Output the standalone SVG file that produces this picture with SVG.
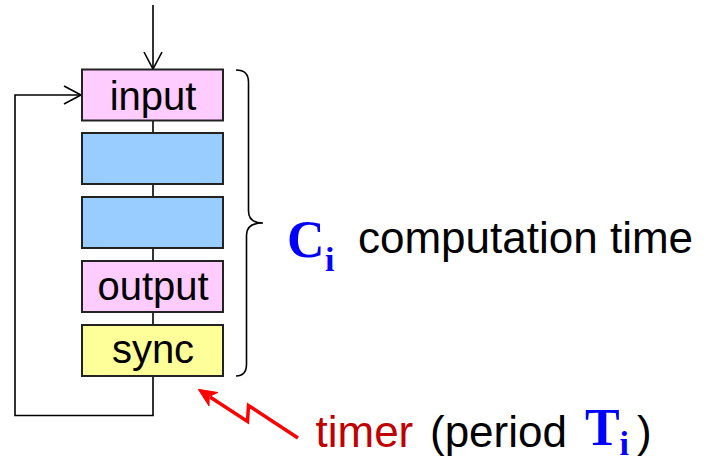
<svg xmlns="http://www.w3.org/2000/svg" width="707" height="457" viewBox="0 0 707 457">
  <style>
    .box { stroke: #222; stroke-width: 2; }
    .pink { fill: #ffccff; }
    .blue { fill: #99ccff; }
    .yellow { fill: #ffff99; }
    .lbl { font-family: "Liberation Sans", Arial, sans-serif; font-size: 40px; fill: #000; text-anchor: middle; }
    .wire { fill: none; stroke: #000; stroke-width: 1.6; }
    .sym { font-family: "Liberation Serif", "Times New Roman", serif; font-weight: bold; fill: #0000ff; }
    .txt { font-family: "Liberation Sans", Arial, sans-serif; font-size: 44px; fill: #000; }
    .signal { fill: none; stroke: #ff0000; stroke-width: 3.5; stroke-linejoin: miter; }
  </style>
  <defs>
    <marker id="open" viewBox="0 0 20 20" refX="18" refY="10" markerWidth="20" markerHeight="20" markerUnits="userSpaceOnUse" orient="auto">
      <path d="M1,1 L18,10 L1,19" fill="none" stroke="#000" stroke-width="1.6"/>
    </marker>
  </defs>

  <!-- connectors -->
  <g id="connectors">
    <line class="wire" x1="153" y1="5" x2="153" y2="69" marker-end="url(#open)"/>
    <line class="wire" x1="153" y1="120" x2="153" y2="133"/>
    <line class="wire" x1="153" y1="184" x2="153" y2="197"/>
    <line class="wire" x1="153" y1="248" x2="153" y2="261"/>
    <line class="wire" x1="153" y1="312" x2="153" y2="325"/>
    <path class="wire" d="M153,376 L153,415.5 L15,415.5 L15,95 L81,95" marker-end="url(#open)"/>
    <!-- timer signal -->
    <path class="signal" d="M298,438 L248.5,405.5 L247.5,421.5 L210,397"/>
    <polygon points="198.3,389.3 217.8,392.5 209.2,396.4 209,405.9" fill="#ff0000" stroke="#ff0000" stroke-width="1" stroke-linejoin="miter"/>
    <!-- brace -->
    <path d="M236,70 Q248.5,70 248.5,82 L248.5,211 Q248.5,223 263,223 Q246.5,223 246.5,235 L246.5,364 Q246.5,376 236,376" fill="none" stroke="#000" stroke-width="1.6"/>
  </g>

  <g id="node-input">
    <rect class="box pink" x="82" y="69.5" width="141" height="51"/>
    <text class="lbl" x="153" y="110">input</text>
  </g>
  <g id="node-step1">
    <rect class="box blue" x="82" y="133" width="141" height="51"/>
  </g>
  <g id="node-step2">
    <rect class="box blue" x="82" y="197" width="141" height="51"/>
  </g>
  <g id="node-output">
    <rect class="box pink" x="82" y="261" width="141" height="51"/>
    <text class="lbl" x="153" y="300">output</text>
  </g>
  <g id="node-sync">
    <rect class="box yellow" x="82" y="325" width="141" height="51"/>
    <text class="lbl" x="153" y="363">sync</text>
  </g>

  <g id="label-computation">
    <text class="sym" x="287" y="256.7" font-size="52">C</text>
    <text class="sym" x="325" y="270.7" font-size="34">i</text>
    <text class="txt" x="358" y="252.7" font-size="46">computation time</text>
  </g>

  <g id="label-timer">
    <text class="txt" x="315.5" y="446.7" style="fill:#c00000">timer</text>
    <text class="txt" x="430" y="446.7">(period</text>
    <text class="sym" x="585" y="445" font-size="52">T</text>
    <text class="sym" x="619.5" y="455" font-size="34">i</text>
    <text class="txt" x="637" y="446.7">)</text>
  </g>
</svg>
